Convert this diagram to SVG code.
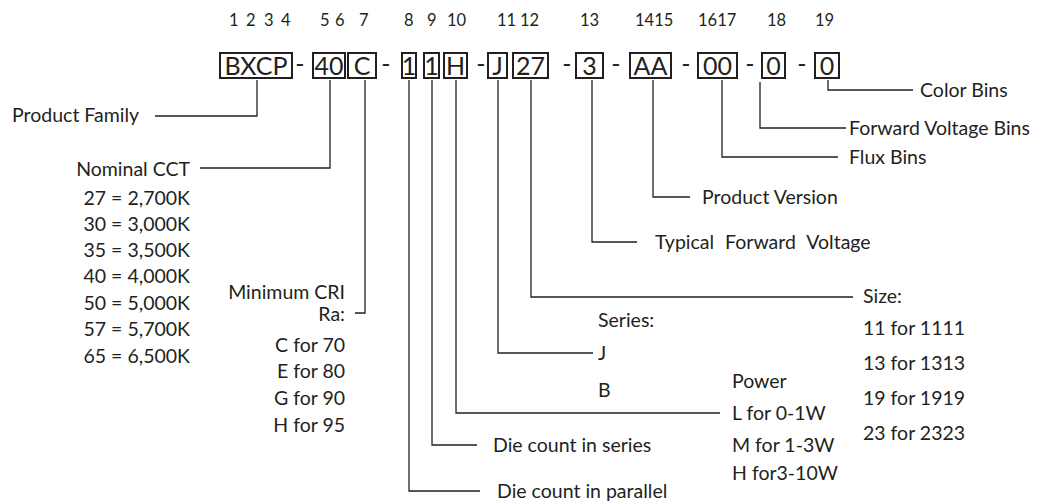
<svg xmlns="http://www.w3.org/2000/svg" width="1043" height="504" viewBox="0 0 1043 504">
<style>
text{font-family:Lato,"Liberation Sans",sans-serif;fill:#231f20}
.lbl{font-size:19.5px}
.r{text-anchor:end}
.num{font-size:16.5px}
.bt{font-size:25px;text-anchor:middle}
.box{fill:none;stroke:#231f20;stroke-width:2}
.ln{fill:none;stroke:#231f20;stroke-width:1.3}
</style>
<rect width="1043" height="504" fill="#fff"/>
<g id="positions">
<text class="num" x="229 237 246 255 264 273 281" y="26">1 2 3 4</text>
<text class="num" x="320 328 335 345 359" y="26">5 6 7</text>
<text class="num" x="404 414 427 437 447" y="26">8 9 10</text>
<text class="num" x="497 506.6 516 520" y="26">11 12</text>
<text class="num" x="580" y="26">13</text>
<text class="num" x="635" y="26">1415</text>
<text class="num" x="698" y="26">1617</text>
<text class="num" x="767" y="26">18</text>
<text class="num" x="815" y="26">19</text>
</g>
<g id="code">
<rect class="box" x="220" y="53" width="72" height="25"/><text class="bt" x="256" y="75">BXCP</text>
<text class="bt" x="300" y="73">-</text>
<rect class="box" x="313" y="53" width="32" height="25"/><text class="bt" x="329" y="75">40</text>
<rect class="box" x="348" y="53" width="28" height="25"/><text class="bt" x="362" y="75">C</text>
<text class="bt" x="386" y="73">-</text>
<rect class="box" x="402" y="53" width="14" height="25"/><text class="bt" x="409" y="75">1</text>
<rect class="box" x="424" y="53" width="15" height="25"/><text class="bt" x="431.5" y="75">1</text>
<rect class="box" x="444" y="53" width="23" height="25"/><text class="bt" x="455.5" y="75">H</text>
<text class="bt" x="481" y="73">-</text>
<rect class="box" x="488" y="53" width="19" height="25"/><text class="bt" x="497.5" y="75">J</text>
<rect class="box" x="513" y="53" width="35" height="25"/><text class="bt" x="530.5" y="75">27</text>
<text class="bt" x="567" y="73">-</text>
<rect class="box" x="576" y="53" width="27" height="25"/><text class="bt" x="589.5" y="75">3</text>
<text class="bt" x="616" y="73">-</text>
<rect class="box" x="630" y="53" width="41" height="25"/><text class="bt" x="650.5" y="75">AA</text>
<text class="bt" x="686" y="73">-</text>
<rect class="box" x="698" y="53" width="39" height="25"/><text class="bt" x="717.5" y="75">00</text>
<text class="bt" x="750" y="73">-</text>
<rect class="box" x="762" y="53" width="23" height="25"/><text class="bt" x="773.5" y="75">0</text>
<text class="bt" x="802" y="73">-</text>
<rect class="box" x="815" y="53" width="24" height="25"/><text class="bt" x="827" y="75">0</text>
</g>
<g id="connectors" class="ln">
<path class="ln" d="M155,116H257V80"/>
<path class="ln" d="M200,168H330V80"/>
<path class="ln" d="M355,313H365V80"/>
<path class="ln" d="M409,80V491H480"/>
<path class="ln" d="M432,80V445H477"/>
<path class="ln" d="M456,80V413H720"/>
<path class="ln" d="M498,80V353H593"/>
<path class="ln" d="M531,80V297H853"/>
<path class="ln" d="M592,80V242H637"/>
<path class="ln" d="M653,80V197H690"/>
<path class="ln" d="M722,80V157H838"/>
<path class="ln" d="M760,82V128H846"/>
<path class="ln" d="M828,80V90H913"/>
</g>
<g id="product-family"><text class="lbl" x="12" y="122">Product Family</text></g>
<g id="nominal-cct">
<text class="lbl r" x="190" y="176">Nominal CCT</text>
<text class="lbl r" x="190" y="205">27 = 2,700K</text>
<text class="lbl r" x="190" y="231">30 = 3,000K</text>
<text class="lbl r" x="190" y="257">35 = 3,500K</text>
<text class="lbl r" x="190" y="283">40 = 4,000K</text>
<text class="lbl r" x="190" y="310">50 = 5,000K</text>
<text class="lbl r" x="190" y="336">57 = 5,700K</text>
<text class="lbl r" x="190" y="363">65 = 6,500K</text>
</g>
<g id="minimum-cri">
<text class="lbl r" x="345" y="299">Minimum CRI</text>
<text class="lbl r" x="345" y="321">Ra:</text>
<text class="lbl r" x="345" y="352">C for 70</text>
<text class="lbl r" x="345" y="378">E for 80</text>
<text class="lbl r" x="345" y="405">G for 90</text>
<text class="lbl r" x="345" y="432">H for 95</text>
</g>
<g id="die-parallel"><text class="lbl" x="497" y="498">Die count in parallel</text></g>
<g id="die-series"><text class="lbl" x="493" y="452">Die count in series</text></g>
<g id="power">
<text class="lbl" x="732" y="388">Power</text>
<text class="lbl" x="732" y="420">L for 0-1W</text>
<text class="lbl" x="732" y="452">M for 1-3W</text>
<text class="lbl" x="732" y="480">H for3-10W</text>
</g>
<g id="series">
<text class="lbl" x="598" y="327">Series:</text>
<text class="lbl" x="598" y="360">J</text>
<text class="lbl" x="598" y="397">B</text>
</g>
<g id="size">
<text class="lbl" x="863" y="303">Size:</text>
<text class="lbl" x="863" y="335">11 for 1111</text>
<text class="lbl" x="863" y="370">13 for 1313</text>
<text class="lbl" x="863" y="405">19 for 1919</text>
<text class="lbl" x="863" y="440">23 for 2323</text>
</g>
<g id="typical-forward-voltage"><text class="lbl" x="655" y="249" word-spacing="6">Typical Forward Voltage</text></g>
<g id="product-version"><text class="lbl" x="702" y="204">Product Version</text></g>
<g id="flux-bins"><text class="lbl" x="849" y="164">Flux Bins</text></g>
<g id="forward-voltage-bins"><text class="lbl" x="849" y="135">Forward Voltage Bins</text></g>
<g id="color-bins"><text class="lbl" x="920" y="97">Color Bins</text></g>
</svg>
